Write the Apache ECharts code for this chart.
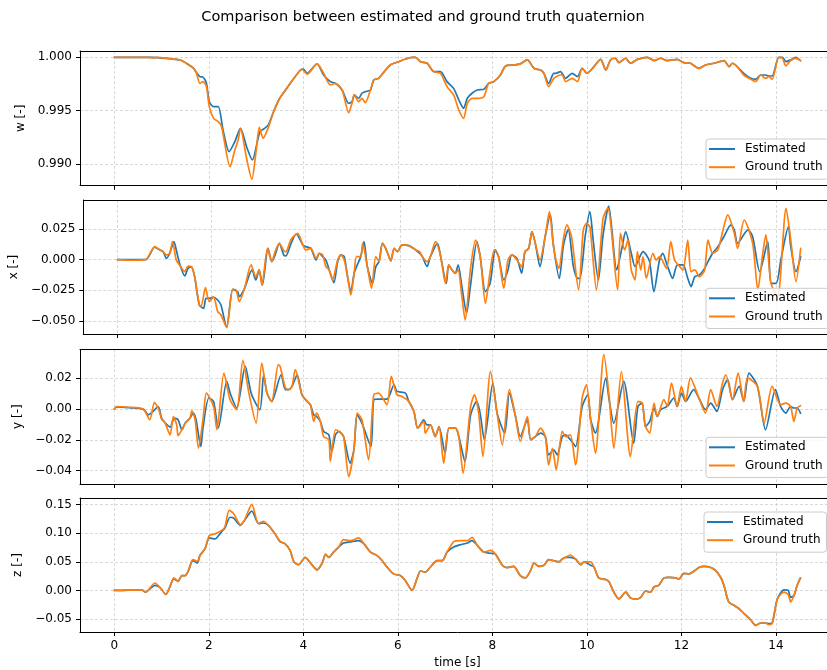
<!DOCTYPE html>
<html><head><meta charset="utf-8">
<script src="https://cdn.jsdelivr.net/npm/echarts@6/dist/echarts.min.js"></script>
<style>html,body{margin:0;padding:0;background:#fff;overflow:hidden}#c{width:845px;height:670px}</style>
</head><body><div id="c"></div>
<script>
const titleText = 'Comparison between estimated and ground truth quaternion';
const seriesNames = ['Estimated', 'Ground truth'];
const panelNames = ['w [-]', 'x [-]', 'y [-]', 'z [-]'];
const timeTicks = [0, 2, 4, 6, 8, 10, 12, 14];
const timeTickLabels = ['0', '2', '4', '6', '8', '10', '12', '14'];
const wTicks = [0.990, 0.995, 1.000];
const wTickLabels = ['0.990', '0.995', '1.000'];
const xTicks = [-0.05, -0.025, 0, 0.025];
const xTickLabels = ['\u22120.050', '\u22120.025', '0.000', '0.025'];
const yTicks = [-0.04, -0.02, 0, 0.02];
const yTickLabels = ['\u22120.04', '\u22120.02', '0.00', '0.02'];
const zTicks = [-0.05, 0, 0.05, 0.10, 0.15];
const zTickLabels = ['\u22120.05', '0.00', '0.05', '0.10', '0.15'];

// [time s, value]
const wEst = [[0,1.0],[0.8,1.0],[1.2,0.99985],[1.4,0.99975],[1.5,0.9995],[1.67,0.999],[1.74,0.99855],[1.81,0.99819],[1.88,0.99813],[1.95,0.99756],[2.01,0.99584],[2.1,0.99538],[2.2,0.99538],[2.3,0.9932],[2.43,0.99116],[2.55,0.99209],[2.67,0.99334],[2.8,0.9916],[2.92,0.99038],[3.08,0.99303],[3.18,0.99334],[3.26,0.99366],[3.37,0.9949],[3.5,0.99616],[3.65,0.9971],[3.8,0.99803],[3.94,0.99881],[4.0,0.9989],[4.08,0.9985],[4.29,0.99938],[4.43,0.99834],[4.57,0.99772],[4.68,0.99756],[4.82,0.99694],[4.96,0.99569],[5.03,0.99584],[5.08,0.99647],[5.17,0.99616],[5.24,0.99663],[5.31,0.99678],[5.42,0.99694],[5.49,0.99788],[5.59,0.99803],[5.7,0.99859],[5.84,0.99928],[6.02,0.99959],[6.16,0.99984],[6.3,1.0],[6.37,1.0],[6.48,0.99959],[6.62,0.99944],[6.76,0.99866],[6.9,0.99866],[7.04,0.99772],[7.18,0.99709],[7.29,0.996],[7.39,0.99522],[7.47,0.99616],[7.57,0.99663],[7.68,0.99694],[7.82,0.997],[7.92,0.99756],[8.03,0.99772],[8.17,0.99834],[8.28,0.99919],[8.45,0.99928],[8.59,0.99938],[8.74,0.99975],[8.88,0.99897],[9.02,0.99881],[9.09,0.9985],[9.19,0.99756],[9.3,0.9985],[9.34,0.9985],[9.44,0.99866],[9.55,0.99803],[9.69,0.9985],[9.8,0.99819],[9.9,0.99897],[10.0,0.9985],[10.15,0.99913],[10.29,0.99981],[10.4,0.99881],[10.5,0.99975],[10.6,0.99991],[10.68,0.9995],[10.82,0.99991],[10.92,0.99944],[11.07,0.99981],[11.28,1.0],[11.42,0.99969],[11.56,0.99991],[11.7,0.99969],[11.91,0.99981],[12.05,0.9995],[12.19,0.99944],[12.37,0.99897],[12.51,0.99928],[12.69,0.99944],[12.9,0.99969],[13.01,0.99913],[13.08,0.99944],[13.18,0.99913],[13.32,0.9985],[13.47,0.99803],[13.57,0.99794],[13.68,0.99834],[13.78,0.99834],[13.85,0.99825],[13.92,0.99825],[14.06,1.0],[14.14,1.0],[14.21,0.99959],[14.31,0.99975],[14.42,1.0],[14.52,0.99969]];
const wGt = [[0,1.0],[0.7,1.0],[0.83,0.99995],[0.9,1.0],[1.2,0.99985],[1.4,0.99975],[1.5,0.9995],[1.67,0.999],[1.74,0.9985],[1.81,0.99756],[1.88,0.99772],[1.95,0.99725],[2.01,0.99538],[2.1,0.99428],[2.2,0.99397],[2.27,0.9935],[2.45,0.98975],[2.55,0.99131],[2.62,0.99225],[2.67,0.99334],[2.8,0.9905],[2.91,0.98856],[3.0,0.9912],[3.07,0.99344],[3.15,0.99241],[3.26,0.99344],[3.37,0.9949],[3.5,0.99616],[3.65,0.9971],[3.8,0.99803],[3.94,0.99881],[3.97,0.99888],[4.08,0.99841],[4.29,0.99938],[4.43,0.9985],[4.57,0.99741],[4.68,0.99756],[4.82,0.99694],[4.96,0.99481],[5.03,0.99569],[5.08,0.99647],[5.17,0.99584],[5.24,0.99616],[5.31,0.99575],[5.42,0.99694],[5.49,0.99788],[5.59,0.99803],[5.7,0.99859],[5.84,0.99928],[6.02,0.99959],[6.16,0.99984],[6.3,1.0],[6.37,1.0],[6.48,0.99959],[6.62,0.99944],[6.76,0.99866],[6.9,0.9985],[7.04,0.99725],[7.18,0.99647],[7.29,0.99506],[7.39,0.99428],[7.47,0.99569],[7.57,0.99616],[7.68,0.99616],[7.82,0.99631],[7.92,0.99756],[8.03,0.99772],[8.17,0.99834],[8.28,0.99919],[8.45,0.99928],[8.59,0.99938],[8.74,0.99975],[8.88,0.99897],[9.02,0.99881],[9.09,0.9985],[9.19,0.99725],[9.3,0.99803],[9.44,0.99834],[9.48,0.99834],[9.55,0.99772],[9.69,0.99803],[9.8,0.99772],[9.9,0.99897],[10.0,0.9985],[10.15,0.99913],[10.29,0.99981],[10.4,0.99881],[10.5,0.99975],[10.6,0.99991],[10.68,0.9995],[10.82,0.99991],[10.92,0.99944],[11.07,0.99981],[11.28,1.0],[11.42,0.99969],[11.56,0.99991],[11.7,0.99969],[11.91,0.99981],[12.05,0.9995],[12.19,0.99944],[12.37,0.99897],[12.51,0.99928],[12.69,0.99944],[12.9,0.99969],[13.01,0.99913],[13.08,0.99944],[13.18,0.99913],[13.32,0.99834],[13.47,0.99794],[13.57,0.99772],[13.68,0.99834],[13.78,0.99803],[13.85,0.99819],[13.92,0.99794],[14.06,1.0],[14.14,0.99991],[14.21,0.99919],[14.31,0.99969],[14.42,0.9999],[14.52,0.99969]];

const xEst = [[0,0],[0.6,0],[0.79,0.0101],[0.9,0.0079],[0.97,0.0065],[1.04,0.0011],[1.11,0.0052],[1.2,0.0147],[1.25,0.0079],[1.32,-0.003],[1.43,-0.0133],[1.5,-0.0071],[1.57,-0.0057],[1.64,-0.0139],[1.74,-0.037],[1.83,-0.0397],[1.88,-0.0315],[1.95,-0.0315],[2.04,-0.0308],[2.13,-0.0329],[2.2,-0.037],[2.32,-0.0552],[2.45,-0.0242],[2.55,-0.0261],[2.59,-0.0302],[2.7,-0.0234],[2.86,-0.0084],[2.94,-0.0166],[3.01,-0.0084],[3.08,-0.0206],[3.2,0.0092],[3.28,-0.0016],[3.35,0.0038],[3.44,0.0133],[3.54,0.0033],[3.58,0.003],[3.69,0.0133],[3.8,0.0209],[3.94,0.012],[4.0,0.0106],[4.11,0.0092],[4.22,-0.0003],[4.29,0.0052],[4.36,0.0024],[4.43,-0.0003],[4.5,-0.0084],[4.6,-0.0187],[4.68,-0.0016],[4.75,0.0038],[4.82,0.0024],[4.89,-0.0139],[4.96,-0.0261],[5.03,-0.0111],[5.08,-0.0057],[5.17,0.0024],[5.24,0.0147],[5.31,-0.0057],[5.42,-0.0193],[5.49,-0.0057],[5.56,-0.0016],[5.63,0.0133],[5.7,0.0092],[5.77,0.0024],[5.81,-0.0011],[5.88,0.0092],[5.95,0.0065],[6.05,0.012],[6.19,0.0114],[6.34,0.0079],[6.42,0.0052],[6.48,0.0024],[6.58,-0.0057],[6.65,0.0024],[6.8,0.0133],[6.87,0.0024],[6.99,-0.0193],[7.04,-0.0043],[7.11,-0.0084],[7.18,-0.0111],[7.24,-0.0043],[7.32,-0.022],[7.42,-0.0437],[7.5,-0.022],[7.64,0.0147],[7.71,0.0024],[7.82,-0.0261],[7.92,-0.0193],[8.03,0.0079],[8.1,0.0024],[8.21,-0.0166],[8.3,-0.0084],[8.38,0.0038],[8.49,0.0011],[8.59,-0.0111],[8.66,0.0065],[8.74,0.0092],[8.81,0.0228],[8.88,0.0133],[8.98,-0.0057],[9.09,0.0187],[9.2,0.0364],[9.26,0.0133],[9.39,-0.0152],[9.48,0.012],[9.58,0.0247],[9.69,-0.0057],[9.78,-0.0152],[9.83,-0.0152],[9.94,0.0187],[10.04,0.0391],[10.11,0.016],[10.22,-0.0166],[10.32,0.02],[10.44,0.0437],[10.61,-0.0084],[10.72,0.0092],[10.8,0.0228],[10.92,0.0052],[11.0,-0.0057],[11.12,0.0038],[11.17,0.0065],[11.24,0.0038],[11.31,-0.0016],[11.4,-0.0261],[11.52,-0.0003],[11.59,0.0052],[11.67,-0.003],[11.8,-0.0152],[11.9,-0.0043],[12.02,-0.0043],[12.12,-0.0152],[12.19,-0.022],[12.27,-0.0139],[12.37,-0.0125],[12.48,-0.0071],[12.55,-0.0016],[12.65,0.0052],[12.76,0.0106],[12.87,0.0174],[13.04,0.0283],[13.11,0.0242],[13.18,0.0133],[13.4,0.0242],[13.5,0.0187],[13.65,-0.0098],[13.82,0.0147],[13.89,-0.0193],[14.0,-0.0193],[14.1,0.0],[14.26,0.0269],[14.31,0.0106],[14.42,-0.0098],[14.52,0.0024]];
const xGt = [[0,0],[0.3,-0.0005],[0.6,0],[0.79,0.0106],[0.9,0.0079],[0.97,0.0065],[1.04,0.0038],[1.11,0.0052],[1.17,0.0147],[1.25,-0.0003],[1.32,-0.0043],[1.43,-0.0098],[1.5,-0.0052],[1.57,-0.0057],[1.64,-0.0139],[1.74,-0.037],[1.78,-0.0378],[1.87,-0.0228],[1.95,-0.0342],[2.04,-0.0302],[2.13,-0.0424],[2.2,-0.0451],[2.32,-0.0552],[2.45,-0.0242],[2.52,-0.0247],[2.59,-0.0342],[2.7,-0.0234],[2.84,-0.0043],[2.94,-0.0139],[3.01,-0.0084],[3.07,-0.0206],[3.19,0.0092],[3.28,-0.0016],[3.35,0.0065],[3.44,0.0133],[3.54,0.0071],[3.58,0.0065],[3.69,0.0166],[3.83,0.0215],[3.94,0.012],[4.0,0.0079],[4.11,0.0092],[4.22,0.0011],[4.29,0.0052],[4.36,0.0038],[4.43,-0.0057],[4.5,-0.0084],[4.57,-0.0166],[4.68,-0.0003],[4.75,0.0038],[4.82,-0.0003],[4.89,-0.0139],[4.96,-0.0288],[5.03,-0.0111],[5.08,0.0024],[5.17,0.0024],[5.21,0.0133],[5.31,-0.0057],[5.4,-0.0234],[5.49,0.0024],[5.56,-0.0016],[5.63,0.0133],[5.7,0.0092],[5.77,0.0024],[5.81,-0.0011],[5.88,0.0092],[5.95,0.0065],[6.05,0.012],[6.19,0.0114],[6.34,0.0079],[6.42,0.0065],[6.48,0.0024],[6.58,-0.0016],[6.65,0.0024],[6.76,0.0147],[6.87,0.0024],[6.97,-0.0193],[7.04,-0.0043],[7.11,-0.0084],[7.18,-0.0111],[7.24,-0.0084],[7.32,-0.0302],[7.39,-0.0492],[7.5,-0.0084],[7.61,0.016],[7.71,0.0024],[7.82,-0.0356],[7.92,-0.0098],[8.01,0.0079],[8.1,0.0024],[8.21,-0.0234],[8.3,-0.0003],[8.38,0.0038],[8.49,-0.0003],[8.59,-0.0057],[8.66,0.0065],[8.74,0.0092],[8.81,0.0228],[8.88,0.0133],[8.98,-0.0003],[9.09,0.0187],[9.18,0.0391],[9.26,0.0133],[9.32,-0.0003],[9.38,-0.0071],[9.48,0.0174],[9.55,0.0283],[9.65,0.0187],[9.8,-0.0247],[9.9,0.0242],[9.97,0.0296],[10.04,0.0269],[10.18,-0.0247],[10.32,0.0337],[10.42,0.042],[10.63,-0.0247],[10.69,0.0215],[10.78,0.0079],[10.85,0.016],[10.92,-0.0084],[11.0,-0.0166],[11.05,0.0065],[11.12,-0.0084],[11.17,0.0024],[11.24,-0.0152],[11.38,0.0052],[11.45,-0.0003],[11.52,0.0024],[11.67,-0.0071],[11.76,0.0147],[11.84,-0.0003],[11.95,-0.0057],[12.02,-0.0084],[12.12,0.016],[12.19,-0.0098],[12.27,-0.0084],[12.37,-0.0139],[12.48,-0.0084],[12.55,0.016],[12.65,0.0052],[12.76,0.0079],[12.87,0.0242],[12.97,0.0364],[13.11,0.0215],[13.18,0.0092],[13.32,0.0323],[13.5,0.0133],[13.61,-0.0247],[13.71,0.0038],[13.78,0.0201],[13.89,-0.0193],[14.03,-0.0302],[14.21,0.0418],[14.31,0.016],[14.42,-0.0179],[14.52,0.0092]];

const yEst = [[0,0],[0.05,0.0015],[0.3,0.001],[0.61,0],[0.72,-0.0037],[0.8,-0.002],[0.93,0.0017],[1.0,-0.0059],[1.07,-0.0087],[1.18,-0.0117],[1.27,-0.0059],[1.35,-0.0069],[1.43,-0.0134],[1.5,-0.0091],[1.6,-0.0059],[1.67,-0.0026],[1.73,-0.0069],[1.83,-0.0243],[1.88,-0.0113],[2.0,0.0072],[2.1,0.005],[2.2,-0.0124],[2.38,0.018],[2.45,0.0104],[2.59,0.0007],[2.77,0.0277],[2.9,0.01],[3.08,-0.0004],[3.16,0.0223],[3.23,0.0104],[3.33,0.005],[3.53,0.0223],[3.62,0.0126],[3.69,0.0126],[3.76,0.0147],[3.87,0.0223],[3.97,0.0093],[4.08,0.005],[4.15,0.0028],[4.22,-0.0037],[4.28,-0.0048],[4.36,-0.008],[4.43,-0.0145],[4.54,-0.0167],[4.6,-0.0275],[4.68,-0.0167],[4.75,-0.0145],[4.85,-0.0178],[4.99,-0.0351],[5.07,-0.0264],[5.14,-0.0037],[5.24,-0.0091],[5.43,-0.0243],[5.49,0.0061],[5.59,0.0065],[5.77,0.0065],[5.92,0.0158],[5.98,0.0115],[6.16,0.0104],[6.23,0.005],[6.34,-0.0015],[6.42,-0.0124],[6.55,-0.0069],[6.61,-0.0102],[6.69,-0.0102],[6.79,-0.0178],[6.87,-0.0113],[7.0,-0.0286],[7.08,-0.0124],[7.22,-0.0124],[7.29,-0.0178],[7.42,-0.034],[7.54,-0.0037],[7.67,0.005],[7.74,-0.0026],[7.83,-0.0199],[8.01,0.0169],[8.1,-0.0026],[8.26,-0.0156],[8.36,0.0104],[8.49,-0.0048],[8.59,-0.0178],[8.74,-0.0069],[8.81,-0.0199],[8.91,-0.0178],[9.02,-0.0156],[9.12,-0.0178],[9.19,-0.0297],[9.3,-0.0264],[9.37,-0.0297],[9.48,-0.0178],[9.55,-0.0167],[9.65,-0.0199],[9.76,-0.0243],[9.9,0.0017],[10.02,0.0093],[10.08,-0.0069],[10.18,-0.0156],[10.4,0.0202],[10.47,0.0061],[10.57,-0.0091],[10.78,0.018],[10.99,-0.0221],[11.08,0.0017],[11.17,0.0039],[11.24,-0.0113],[11.33,-0.008],[11.42,0.0007],[11.49,-0.0048],[11.56,-0.0004],[11.7,0.0017],[11.84,0.0072],[11.91,0.0017],[12.0,0.0104],[12.09,0.005],[12.26,0.0126],[12.37,0.0072],[12.51,-0.0004],[12.62,0.0039],[12.75,-0.0015],[12.87,0.0126],[12.98,0.0191],[13.08,0.0061],[13.22,0.0147],[13.32,0.005],[13.43,0.0234],[13.61,0.0147],[13.78,-0.0134],[13.99,0.0126],[14.1,0.0017],[14.21,-0.0026],[14.31,0.0017],[14.38,0.0007],[14.45,0.0007],[14.52,-0.0026]];
const yGt = [[0,0],[0.05,0.0017],[0.3,0.0012],[0.61,0],[0.75,-0.0069],[0.85,0.0043],[0.93,0.0007],[1.0,-0.0065],[1.07,-0.0087],[1.18,-0.0167],[1.25,-0.0048],[1.32,-0.0102],[1.35,-0.0173],[1.43,-0.0134],[1.5,-0.0091],[1.6,-0.0059],[1.64,-0.0011],[1.71,-0.0069],[1.78,-0.0254],[1.88,-0.0059],[1.95,0.0104],[2.1,0.0017],[2.17,-0.0134],[2.32,0.0234],[2.45,0.0061],[2.59,-0.0004],[2.72,0.0316],[2.85,0.01],[3.0,-0.0091],[3.12,0.0299],[3.23,0.0104],[3.33,0.005],[3.47,0.0288],[3.51,0.0277],[3.62,0.0137],[3.69,0.0126],[3.76,0.0147],[3.83,0.0256],[3.97,0.0093],[4.08,0.005],[4.15,0.0028],[4.22,-0.008],[4.28,-0.0026],[4.36,-0.008],[4.43,-0.0178],[4.54,-0.0199],[4.57,-0.034],[4.68,-0.0134],[4.75,-0.0145],[4.85,-0.0178],[4.96,-0.0438],[5.07,-0.0264],[5.14,-0.0026],[5.24,-0.0069],[5.38,-0.0329],[5.49,0.0093],[5.59,0.0104],[5.77,0.0028],[5.86,0.0212],[5.98,0.0093],[6.09,0.0082],[6.23,0.005],[6.34,-0.0015],[6.42,-0.0124],[6.55,-0.008],[6.58,-0.0156],[6.69,-0.0102],[6.79,-0.0178],[6.87,-0.0113],[6.97,-0.0351],[7.08,-0.0124],[7.22,-0.0124],[7.29,-0.0178],[7.38,-0.0416],[7.54,0.0017],[7.62,0.0093],[7.71,-0.0026],[7.8,-0.0308],[7.96,0.0245],[8.1,-0.0026],[8.21,-0.0232],[8.36,0.0126],[8.49,-0.0048],[8.59,-0.021],[8.74,-0.0048],[8.81,-0.0199],[8.91,-0.0178],[9.02,-0.0124],[9.12,-0.0178],[9.19,-0.0362],[9.27,-0.0254],[9.35,-0.0394],[9.48,-0.0145],[9.55,-0.0178],[9.65,-0.0167],[9.76,-0.0362],[9.9,0.0072],[9.99,0.0158],[10.08,-0.0069],[10.18,-0.0286],[10.36,0.0353],[10.47,0.0082],[10.57,-0.0254],[10.73,0.0245],[10.92,-0.0308],[11.08,0.005],[11.17,0.0039],[11.24,-0.0113],[11.33,-0.0156],[11.42,0.0039],[11.49,-0.0048],[11.63,0.0061],[11.7,0.0017],[11.79,0.0169],[11.91,0.0017],[12.0,0.0147],[12.09,0.005],[12.19,0.0202],[12.37,0.0072],[12.51,-0.0026],[12.62,0.0126],[12.75,0.0017],[12.87,0.0169],[12.94,0.0223],[13.08,0.0061],[13.2,0.0234],[13.32,0.005],[13.4,0.0202],[13.61,0.0147],[13.75,-0.0091],[13.92,0.0147],[14.1,0.0028],[14.21,0.0039],[14.31,0.0017],[14.38,-0.008],[14.45,0.0007],[14.52,0.0022]];

const zEst = [[0,0],[0.3,0.0005],[0.58,0.001],[0.66,-0.003],[0.86,0.009],[0.97,0.005],[1.09,-0.007],[1.16,0.003],[1.26,0.02],[1.35,0.016],[1.43,0.026],[1.5,0.026],[1.57,0.035],[1.66,0.052],[1.76,0.048],[1.81,0.061],[1.92,0.073],[2.01,0.092],[2.13,0.09],[2.27,0.103],[2.34,0.109],[2.45,0.128],[2.52,0.127],[2.67,0.114],[2.75,0.122],[2.91,0.1388],[3.05,0.117],[3.15,0.118],[3.26,0.114],[3.4,0.099],[3.51,0.085],[3.61,0.082],[3.72,0.07],[3.8,0.05],[3.9,0.045],[4.04,0.058],[4.15,0.048],[4.29,0.036],[4.4,0.048],[4.47,0.063],[4.54,0.058],[4.64,0.067],[4.75,0.076],[4.85,0.083],[5.0,0.085],[5.17,0.087],[5.28,0.082],[5.42,0.067],[5.56,0.061],[5.67,0.052],[5.77,0.041],[5.91,0.029],[6.05,0.026],[6.16,0.017],[6.3,0.0],[6.41,0.022],[6.48,0.034],[6.58,0.032],[6.69,0.041],[6.83,0.052],[6.94,0.052],[7.04,0.067],[7.18,0.076],[7.32,0.08],[7.47,0.083],[7.57,0.087],[7.68,0.079],[7.82,0.067],[7.96,0.065],[8.06,0.064],[8.21,0.044],[8.31,0.04],[8.45,0.042],[8.59,0.026],[8.7,0.022],[8.81,0.035],[8.88,0.048],[8.98,0.042],[9.09,0.044],[9.19,0.054],[9.3,0.052],[9.41,0.05],[9.48,0.055],[9.55,0.058],[9.65,0.058],[9.76,0.055],[9.87,0.045],[9.94,0.05],[10.08,0.044],[10.15,0.041],[10.25,0.022],[10.4,0.019],[10.47,0.015],[10.57,-0.003],[10.68,-0.015],[10.82,-0.003],[10.92,-0.013],[11.03,-0.015],[11.14,-0.012],[11.24,-0.001],[11.35,-0.003],[11.42,0.006],[11.52,0.009],[11.63,0.022],[11.74,0.023],[11.88,0.022],[11.95,0.02],[12.05,0.03],[12.16,0.029],[12.27,0.034],[12.37,0.04],[12.48,0.042],[12.62,0.04],[12.72,0.035],[12.83,0.023],[12.9,0.009],[13.0,-0.02],[13.11,-0.026],[13.22,-0.032],[13.32,-0.04],[13.47,-0.052],[13.57,-0.061],[13.68,-0.057],[13.78,-0.057],[13.85,-0.058],[13.92,-0.057],[14.03,-0.015],[14.17,0.001],[14.26,0.0],[14.31,-0.012],[14.38,-0.009],[14.45,0.009],[14.52,0.022]];
const zGt = [[0,0],[0.3,0.0005],[0.58,0.001],[0.66,-0.003],[0.86,0.013],[0.97,0.005],[1.09,-0.007],[1.16,0.003],[1.26,0.022],[1.35,0.016],[1.43,0.026],[1.5,0.026],[1.57,0.035],[1.66,0.054],[1.76,0.051],[1.81,0.061],[1.92,0.073],[2.01,0.096],[2.13,0.099],[2.27,0.105],[2.34,0.111],[2.43,0.14],[2.52,0.135],[2.67,0.115],[2.75,0.122],[2.91,0.1504],[3.05,0.117],[3.15,0.121],[3.26,0.114],[3.4,0.099],[3.51,0.086],[3.61,0.082],[3.72,0.07],[3.8,0.05],[3.9,0.045],[4.04,0.058],[4.15,0.048],[4.29,0.036],[4.4,0.048],[4.47,0.063],[4.54,0.058],[4.64,0.067],[4.75,0.076],[4.85,0.089],[5.0,0.087],[5.17,0.092],[5.28,0.082],[5.42,0.067],[5.56,0.061],[5.67,0.052],[5.77,0.041],[5.91,0.029],[6.05,0.026],[6.16,0.017],[6.3,0.0],[6.41,0.022],[6.48,0.034],[6.58,0.032],[6.69,0.041],[6.83,0.052],[6.94,0.052],[7.04,0.067],[7.18,0.085],[7.32,0.087],[7.47,0.087],[7.57,0.093],[7.68,0.079],[7.82,0.067],[7.96,0.07],[8.06,0.064],[8.21,0.044],[8.31,0.04],[8.45,0.042],[8.59,0.026],[8.7,0.022],[8.81,0.035],[8.88,0.048],[8.98,0.042],[9.09,0.044],[9.19,0.054],[9.3,0.052],[9.41,0.05],[9.48,0.055],[9.55,0.058],[9.65,0.062],[9.76,0.055],[9.87,0.045],[9.94,0.05],[10.08,0.05],[10.15,0.041],[10.25,0.022],[10.4,0.019],[10.47,0.015],[10.57,-0.003],[10.68,-0.015],[10.82,-0.003],[10.92,-0.013],[11.03,-0.015],[11.14,-0.012],[11.24,-0.001],[11.35,-0.003],[11.42,0.006],[11.52,0.009],[11.63,0.022],[11.74,0.023],[11.88,0.022],[11.95,0.02],[12.05,0.03],[12.16,0.029],[12.27,0.034],[12.37,0.04],[12.48,0.042],[12.62,0.04],[12.72,0.035],[12.83,0.023],[12.9,0.009],[13.0,-0.02],[13.11,-0.026],[13.22,-0.032],[13.32,-0.04],[13.47,-0.052],[13.57,-0.061],[13.68,-0.057],[13.78,-0.057],[13.85,-0.06],[13.92,-0.058],[14.03,-0.015],[14.17,-0.003],[14.26,-0.007],[14.31,-0.02],[14.38,-0.009],[14.45,0.009],[14.52,0.022]];

const FONT = 'DejaVu Sans';
const FS = 12;
const panels = [
  {est: wEst, gt: wGt, ticks: wTicks, labels: wTickLabels, min: 0.98797, max: 1.00059, top: 51, height: 134.7, legTop: 139, legLeft: 706},
  {est: xEst, gt: xGt, ticks: xTicks, labels: xTickLabels, min: -0.0606, max: 0.0486, top: 200, height: 134, legTop: 288.3, legLeft: 706},
  {est: yEst, gt: yGt, ticks: yTicks, labels: yTickLabels, min: -0.0486, max: 0.0388, top: 349.3, height: 134.7, legTop: 437.3, legLeft: 706},
  {est: zEst, gt: zGt, ticks: zTicks, labels: zTickLabels, min: -0.0727, max: 0.1617, top: 498, height: 134, legTop: 512, legLeft: 704}
];
const T_MIN = -0.726, T_MAX = 15.25;
function lookup(ticks, labels) {
  return function (v) {
    for (let i = 0; i < ticks.length; i++) if (Math.abs(v - ticks[i]) < 1e-9) return labels[i];
    return '';
  };
}
const spine = {show: true, onZero: false, lineStyle: {color: '#000', width: 1}};
const gridLine = {show: true, lineStyle: {color: '#c8c8c8', width: 0.7, type: [3, 2]}};
const xAxes = [];
panels.forEach((p, i) => {
  xAxes.push({
    type: 'value', gridIndex: i, min: T_MIN, max: T_MAX, position: 'bottom',
    axisLine: spine,
    axisTick: {show: true, inside: false, length: 4, lineStyle: {color: '#000', width: 1}, customValues: timeTicks},
    axisLabel: {show: i === 3, customValues: timeTicks, formatter: lookup(timeTicks, timeTickLabels), fontFamily: FONT, fontSize: FS, color: '#000', margin: 8},
    splitLine: gridLine,
    name: i === 3 ? 'time [s]' : '', nameLocation: 'middle', nameGap: 25,
    nameTextStyle: {fontFamily: FONT, fontSize: FS, color: '#000'}
  });
  xAxes.push({
    type: 'value', gridIndex: i, min: T_MIN, max: T_MAX, position: 'top',
    axisLine: spine, axisTick: {show: false}, axisLabel: {show: false}, splitLine: {show: false}
  });
});
const option = {
  animation: false,
  backgroundColor: '#fff',
  graphic: [{type: 'text', x: 423, y: 17, style: {text: titleText, fontFamily: FONT, fontSize: 14.5, fill: '#000', align: 'center', verticalAlign: 'middle'}}],
  grid: panels.map(p => ({left: 80, width: 755, top: p.top, height: p.height, show: false, containLabel: false})),
  xAxis: xAxes,
  yAxis: panels.map((p, i) => ({
    type: 'value', gridIndex: i, min: p.min, max: p.max, position: 'left',
    axisLine: spine,
    axisTick: {show: true, inside: false, length: 4, lineStyle: {color: '#000', width: 1}, customValues: p.ticks},
    axisLabel: {show: true, customValues: p.ticks, formatter: lookup(p.ticks, p.labels), fontFamily: FONT, fontSize: FS, color: '#000', margin: 8},
    splitLine: gridLine,
    name: panelNames[i], nameLocation: 'middle', nameRotate: 90, nameGap: 50,
    nameTextStyle: {fontFamily: FONT, fontSize: FS, color: '#000'}
  })),
  legend: panels.map(p => ({
    data: seriesNames, orient: 'vertical', left: p.legLeft, top: p.legTop,
    icon: 'rect', itemWidth: 26, itemHeight: 2, itemGap: 6.2,
    padding: [4, 6, 6, 3], backgroundColor: 'rgba(255,255,255,0.8)',
    borderColor: '#cccccc', borderWidth: 1, borderRadius: 3,
    selectedMode: false, z: 10,
    textStyle: {fontFamily: FONT, fontSize: FS, color: '#000', padding: [0, 0, 0, 5]}
  })),
  series: []
};
panels.forEach((p, i) => {
  option.series.push({type: 'line', name: seriesNames[0], xAxisIndex: 2 * i, yAxisIndex: i, data: p.est, showSymbol: false, symbol: 'none', z: 2, smooth: 0.25,
    lineStyle: {color: '#1f77b4', width: 1.7, join: 'round', cap: 'round'}, itemStyle: {color: '#1f77b4'}});
  option.series.push({type: 'line', name: seriesNames[1], xAxisIndex: 2 * i, yAxisIndex: i, data: p.gt, showSymbol: false, symbol: 'none', z: 3, smooth: 0.25,
    lineStyle: {color: '#ff7f0e', width: 1.7, join: 'round', cap: 'round'}, itemStyle: {color: '#ff7f0e'}});
});
const chart = echarts.init(document.getElementById('c'), null, {renderer: 'canvas'});
chart.setOption(option);
</script>
</body></html>
